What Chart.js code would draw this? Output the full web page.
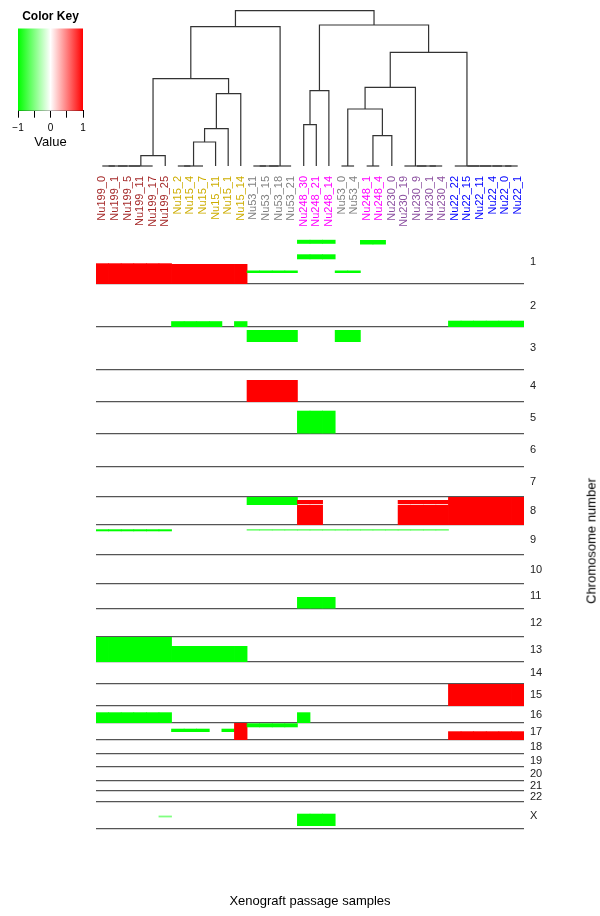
<!DOCTYPE html>
<html lang="en">
  <head>
    <meta charset="UTF-8" />
    <title>Xenograft passage samples - copy number heatmap</title>
    <style>
      body { margin: 0; background: #fff; font-family: "Liberation Sans", Arial, sans-serif; }
      .wrap { position: relative; width: 600px; height: 916px; }
      canvas { position: absolute; left: 0; top: 0; }
      .ytitle {
        position: absolute; left: 591px; top: 541px;
        transform: translate(-50%, -50%) rotate(-90deg);
        font-size: 13px; white-space: nowrap; color: #000;
      }
    </style>
    <script src="https://cdn.jsdelivr.net/npm/chart.js"></script>
  </head>
  <body>
    <div class="wrap">
      <canvas id="key" width="100" height="150"></canvas>
      <canvas id="dendro" width="600" height="240"></canvas>
      <canvas id="heat" width="600" height="916"></canvas>
      <div class="ytitle">Chromosome number</div>
    </div>

    <script>
      // samples in dendrogram order
      const sampleNames = [
        "Nu199_0", "Nu199_1", "Nu199_5", "Nu199_11", "Nu199_17", "Nu199_25",
        "Nu15_2", "Nu15_4", "Nu15_7", "Nu15_11", "Nu15_1", "Nu15_14",
        "Nu53_11", "Nu53_15", "Nu53_18", "Nu53_21",
        "Nu248_30", "Nu248_21", "Nu248_14", "Nu53_0", "Nu53_4",
        "Nu248_1", "Nu248_4", "Nu230_0", "Nu230_19", "Nu230_9", "Nu230_1", "Nu230_4",
        "Nu22_22", "Nu22_15", "Nu22_11", "Nu22_4", "Nu22_0", "Nu22_1",
      ];
      const groupColors = {
        Nu199: "#A52A2A", Nu15: "#CDAD00", Nu53: "#808080",
        Nu248: "#FF00FF", Nu230: "#8C50A0", Nu22: "#0000FF",
      };

      const chromosomes = ["1", "2", "3", "4", "5", "6", "7", "8", "9", "10", "11", "12",
        "13", "14", "15", "16", "17", "18", "19", "20", "21", "22", "X"];
      // relative row height of each chromosome
      const chromSizes = [45, 43, 42.5, 32.5, 31.5, 33, 30.5, 28, 30, 29, 24.5, 28.5,
        25, 22, 22, 17, 17, 14, 13, 13.5, 10.5, 11, 27];

      // [chromosome, first sample, last sample, start, end, value]
      const segments = [
        ["1", 16, 18, 0.8, 4.8, -1],
        ["1", 21, 22, 1, 5.5, -1],
        ["1", 16, 18, 15.3, 20.3, -1],
        ["1", 0, 5, 24.3, 45, 1],
        ["1", 6, 11, 25, 45, 1],
        ["1", 12, 15, 31.5, 34, -1],
        ["1", 19, 20, 31.5, 34, -1],
        ["2", 6, 9, 37.2, 43, -1],
        ["2", 11, 11, 37.2, 43, -1],
        ["2", 28, 33, 36.7, 43, -1],
        ["3", 12, 15, 3, 15, -1],
        ["3", 19, 20, 3, 15, -1],
        ["4", 12, 15, 10.5, 32.5, 1],
        ["5", 16, 18, 8.7, 31.5, -1],
        ["8", 12, 15, 0, 8, -1],
        ["8", 16, 17, 3, 7.2, 1],
        ["8", 16, 17, 8, 28, 1],
        ["8", 24, 27, 3, 7.2, 1],
        ["8", 24, 27, 8, 28, 1],
        ["8", 28, 33, 0, 28, 1],
        ["9", 0, 5, 4.3, 6.3, -1],
        ["9", 12, 27, 4.1, 5.6, -0.6],
        ["11", 16, 18, 13, 24.5, -1],
        ["13", 0, 5, 0, 25, -1],
        ["13", 6, 11, 9, 25, -1],
        ["15", 28, 33, 0, 22, 1],
        ["16", 0, 5, 6.3, 17, -1],
        ["16", 16, 16, 6.3, 17, -1],
        ["17", 6, 8, 5.7, 9, -1],
        ["17", 10, 10, 5.7, 9, -1],
        ["17", 11, 11, 0, 17, 1],
        ["17", 12, 15, 0.3, 4.3, -1],
        ["17", 28, 33, 8.3, 17, 1],
        ["X", 5, 5, 13.6, 15.4, -0.5],
        ["X", 16, 18, 11.7, 24, -1],
      ];

      // dendrogram: [height, left, right], leaves are sample indexes
      const tree = [15.53,
        [13.93,
          [8.73,
            [1.03, [0, [0, [0, [0, 0, 1], 2], 3], 4], 5],
            [7.23, [3.73, [2.4, [0, [0, 6, 7], 8], 9], 10], 11]],
          [0, [0, [0, 12, 13], 14], 15]],
        [14.1,
          [7.53, [4.13, 16, 17], 18],
          [11.37,
            [7.87,
              [5.7, [0, 19, 20], [3.03, [0, 21, 22], 23]],
              [0, 24, [0, 25, [0, 26, 27]]]],
            [0, 28, [0, 29, [0, 30, [0, 31, [0, 32, 33]]]]]]]];

      const keyTicks = [-1, -0.5, 0, 0.5, 1];
      const keyTickLabels = ["\u22121", "", "0", "", "1"];

      Chart.defaults.font.family = '"Liberation Sans", Arial, sans-serif';
      Chart.defaults.color = "#000";

      function valueColor(v) {
        const t = Math.min(Math.abs(v), 1);
        const c = Math.round(255 * (1 - t));
        return v < 0 ? `rgb(${c},255,${c})` : `rgb(255,${c},${c})`;
      }

      // chromosome extents
      const chrStart = [];
      let acc = 0;
      chromSizes.forEach((s) => { chrStart.push(acc); acc += s; });
      const genomeTotal = acc;
      const chrEnd = chromSizes.map((s, i) => chrStart[i] + s);
      const chrMid = chromSizes.map((s, i) => chrStart[i] + s / 2);

      // heatmap cells
      const cells = [];
      const cellColors = [];
      segments.forEach(([chr, first, last, start, end, value]) => {
        const base = chrStart[chromosomes.indexOf(chr)];
        for (let c = first; c <= last; c++) {
          cells.push({ x: c, y: [base + start, base + end] });
          cellColors.push(valueColor(value));
        }
      });

      // dendrogram branches
      const branches = [];
      function layoutNode(node) {
        if (typeof node === "number") return { x: node, h: 0 };
        const [h, l, r] = node;
        const L = layoutNode(l);
        const R = layoutNode(r);
        branches.push([
          { x: L.x, y: L.h }, { x: L.x, y: h },
          { x: R.x, y: h }, { x: R.x, y: R.h },
        ]);
        return { x: (L.x + R.x) / 2, h: h };
      }
      layoutNode(tree);

      const sampleTicks = (s) => { s.ticks = sampleNames.map((_, i) => ({ value: i })); };

      // colour key
      new Chart(document.getElementById("key"), {
        type: "bar",
        data: {
          labels: [""],
          datasets: [{
            data: [[-1, 1]],
            backgroundColor: (ctx) => {
              const a = ctx.chart.chartArea;
              if (!a) return "#fff";
              const g = ctx.chart.ctx.createLinearGradient(a.left, 0, a.right, 0);
              g.addColorStop(0, valueColor(-1));
              g.addColorStop(0.5, "#ffffff");
              g.addColorStop(1, valueColor(1));
              return g;
            },
            borderWidth: 0,
            barPercentage: 1,
            categoryPercentage: 1,
          }],
        },
        options: {
          indexAxis: "y",
          responsive: false,
          animation: false,
          layout: { padding: { left: 18, right: 17, top: 0, bottom: 0 } },
          plugins: {
            legend: { display: false },
            tooltip: { enabled: false },
            title: {
              display: true, text: "Color Key", color: "#000",
              font: { size: 12, weight: "bold" },
              padding: { top: 9.5, bottom: 4.5 },
            },
          },
          scales: {
            x: {
              type: "linear", min: -1, max: 1, offset: false,
              afterBuildTicks: (s) => { s.ticks = keyTicks.map((v) => ({ value: v })); },
              afterFit: (s) => { s.height = 39.3; },
              grid: { drawOnChartArea: false, drawTicks: true, tickLength: 7, color: "#000" },
              border: { display: true, color: "#000" },
              ticks: { padding: 5, font: { size: 10 }, color: "#000",
                minRotation: 0, maxRotation: 0, autoSkip: false,
                callback: (v, i) => keyTickLabels[i] },
              title: { display: true, text: "Value", font: { size: 13 }, color: "#000",
                padding: { top: 0, bottom: 0 } },
            },
            y: { type: "category", display: false },
          },
        },
      });

      // dendrogram + sample labels
      new Chart(document.getElementById("dendro"), {
        type: "scatter",
        data: {
          datasets: branches.map((pts) => ({
            data: pts, showLine: true, borderColor: "#333", borderWidth: 1.2,
            pointRadius: 0, clip: false, tension: 0,
          })),
        },
        options: {
          responsive: false,
          animation: false,
          layout: { padding: { left: 96, right: 76, top: 10.7, bottom: 0 } },
          plugins: { legend: { display: false }, tooltip: { enabled: false } },
          scales: {
            x: {
              type: "linear", min: -0.5, max: 33.5, offset: false,
              afterBuildTicks: sampleTicks,
              afterFit: (s) => { s.height = 74; },
              grid: { display: false, drawTicks: false },
              border: { display: false },
              ticks: {
                autoSkip: false, minRotation: 90, maxRotation: 90, padding: 10,
                font: { size: 11 },
                color: (ctx) => groupColors[sampleNames[ctx.index].split("_")[0]],
                callback: (v, i) => sampleNames[i],
              },
            },
            y: { type: "linear", display: false, min: 0, max: 15.53 },
          },
        },
      });

      // heatmap
      new Chart(document.getElementById("heat"), {
        type: "bar",
        data: {
          datasets: [{
            data: cells, backgroundColor: cellColors, borderWidth: 0,
            barPercentage: 1.06, categoryPercentage: 1,
          }],
        },
        options: {
          responsive: false,
          animation: false,
          layout: { padding: { left: 96, top: 239, right: 0, bottom: 0 } },
          plugins: { legend: { display: false }, tooltip: { enabled: false } },
          scales: {
            x: {
              type: "linear", min: -0.5, max: 33.5, offset: false,
              afterBuildTicks: sampleTicks,
              afterFit: (s) => { s.height = 87; },
              grid: { display: false, drawTicks: false, offset: false },
              border: { display: false },
              ticks: { display: false },
              title: { display: true, text: "Xenograft passage samples", color: "#000",
                font: { size: 13 }, padding: { top: 0, bottom: 7 } },
            },
            y: {
              type: "linear", position: "right", reverse: true, min: 0, max: genomeTotal,
              afterBuildTicks: (s) => { s.ticks = chrMid.map((v) => ({ value: v })); },
              afterFit: (s) => { s.width = 76; },
              grid: { display: false, drawTicks: false },
              border: { display: false },
              ticks: { autoSkip: false, padding: 6, color: "#222", font: { size: 11 },
                callback: (v, i) => chromosomes[i] },
            },
            yb: {
              type: "linear", position: "left", reverse: true, min: 0, max: genomeTotal, z: 1,
              afterBuildTicks: (s) => { s.ticks = chrEnd.map((v) => ({ value: v })); },
              afterFit: (s) => { s.width = 0; },
              grid: { color: "#555", lineWidth: 1.2, drawTicks: false },
              border: { display: false },
              ticks: { display: false },
            },
          },
        },
      });
    </script>
  </body>
</html>
